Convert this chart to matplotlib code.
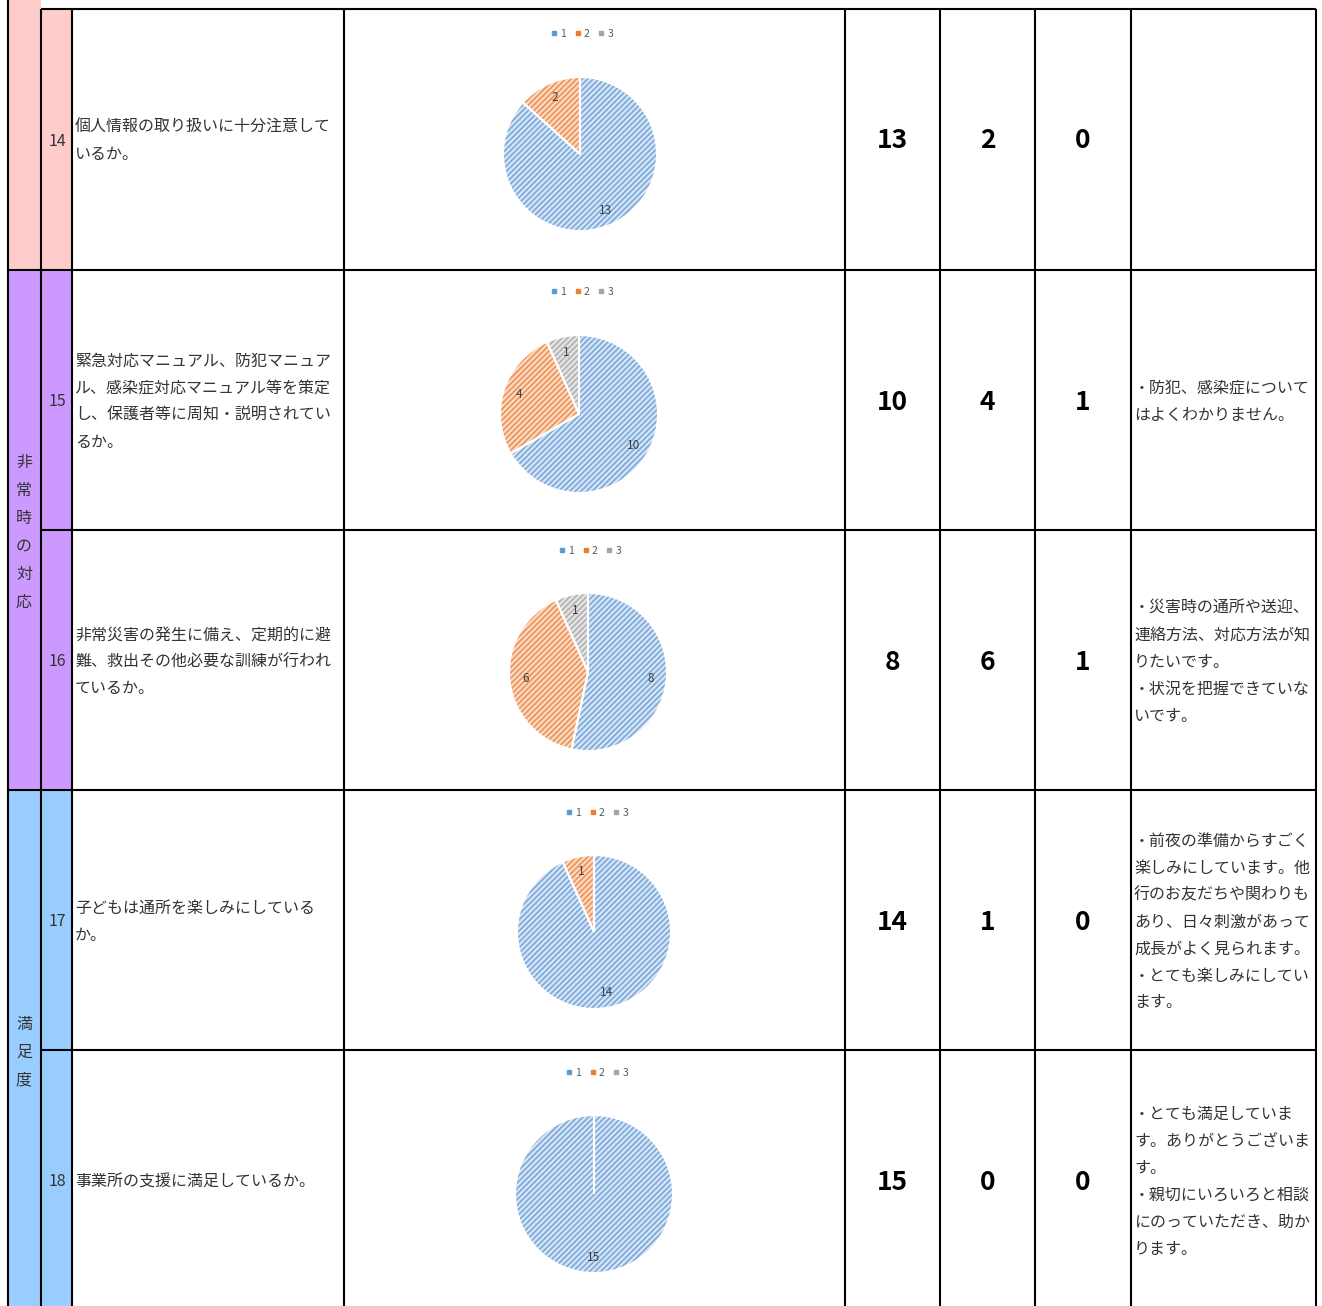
import numpy as np
import matplotlib
matplotlib.use('Agg')
import matplotlib.pyplot as plt
from matplotlib.lines import Line2D

plt.rcParams['font.family'] = ['Noto Sans CJK JP', 'DejaVu Sans']
plt.rcParams['hatch.linewidth'] = 1.3

# ---- data ----
item_no = [14, 15, 16, 17, 18]
questions = [
    "個人情報の取り扱いに十分注意して\nいるか。",
    "緊急対応マニュアル、防犯マニュア\nル、感染症対応マニュアル等を策定\nし、保護者等に周知・説明されてい\nるか。",
    "非常災害の発生に備え、定期的に避\n難、救出その他必要な訓練が行われ\nているか。",
    "子どもは通所を楽しみにしている\nか。",
    "事業所の支援に満足しているか。",
]
ans1 = [13, 10, 8, 14, 15]
ans2 = [2, 4, 6, 1, 0]
ans3 = [0, 1, 1, 0, 0]
comments = [
    "",
    "・防犯、感染症について\nはよくわかりません。",
    "・災害時の通所や送迎、\n連絡方法、対応方法が知\nりたいです。\n・状況を把握できていな\nいです。",
    "・前夜の準備からすごく\n楽しみにしています。他\n行のお友だちや関わりも\nあり、日々刺激があって\n成長がよく見られます。\n・とても楽しみにしてい\nます。",
    "・とても満足していま\nす。ありがとうございま\nす。\n・親切にいろいろと相談\nにのっていただき、助か\nります。",
]
legend_labels = ['1', '2', '3']
cat_labels = ['非常時の対応', '満足度']

# ---- layout (pixels) ----
W, H = 1322, 1306
row_top = [9, 270, 530, 790, 1050]
row_h = 260
col_x = [8, 41, 72, 344, 845, 940, 1035, 1131, 1316]
row_fill = ['#ffcccc', '#cc99ff', '#cc99ff', '#99ccff', '#99ccff']
pie_pos = [(580, 154, 77), (579, 414, 79), (588, 672, 79), (594, 932, 77), (594, 1194, 79)]
leg_pos = [(582, 34), (582, 292), (590, 551), (597, 813), (597, 1073)]
face_cols = ['#d9e6f5', '#fadcc8', '#e6e6e6']
hatch_cols = ['#7eabdd', '#f09558', '#b3b3b3']
mark_cols = ['#5b9bd5', '#ed7d31', '#a5a5a5']
txt_col = '#333333'
fs = 11.5
lh = 27
dy = 2  # small baseline correction

fig = plt.figure(figsize=(W / 100, H / 100), dpi=100)
ax = fig.add_axes([0, 0, 1, 1])
ax.set_xlim(0, W)
ax.set_ylim(H, 0)
ax.axis('off')

# coloured header columns
for i in range(5):
    top = row_top[i]
    bot = min(top + row_h, H)
    y0 = 0 if i == 0 else top
    ax.add_patch(plt.Rectangle((col_x[0], y0), col_x[1] - col_x[0], bot - y0,
                               facecolor=row_fill[i], edgecolor='none', zorder=0))
    ax.add_patch(plt.Rectangle((col_x[1], top), col_x[2] - col_x[1], bot - top,
                               facecolor=row_fill[i], edgecolor='none', zorder=0))

# grid lines
lw = 1.5
ax.plot([col_x[0], col_x[0]], [0, H], color='black', lw=lw, solid_capstyle='butt')
for x in col_x[1:]:
    ax.plot([x, x], [row_top[0], H], color='black', lw=lw, solid_capstyle='butt')
for i, y in enumerate(row_top):
    x0 = col_x[0] if i in (1, 3) else col_x[1]
    ax.plot([x0, col_x[-1]], [y, y], color='black', lw=lw, solid_capstyle='butt')

# category labels (vertical)
cat_rows = [(1, 2), (3, 4)]
for lab, (a, b) in zip(cat_labels, cat_rows):
    yc = (row_top[a] + row_top[b] + row_h) / 2
    n = len(lab)
    for k, ch in enumerate(lab):
        ax.text(24, yc + dy + (k - (n - 1) / 2) * 28, ch, ha='center', va='center',
                fontsize=fs, color=txt_col)

for i in range(5):
    yc = row_top[i] + row_h / 2
    ax.text(57, yc + dy, str(item_no[i]), ha='center', va='center', fontsize=fs, color=txt_col)

    lines = questions[i].split('\n')
    for k, ln in enumerate(lines):
        ax.text(75, yc + dy + (k - (len(lines) - 1) / 2) * lh, ln, ha='left', va='center',
                fontsize=fs, color=txt_col)

    for j, v in enumerate([ans1[i], ans2[i], ans3[i]]):
        xc = (col_x[4 + j] + col_x[5 + j]) / 2
        ax.text(xc, yc + dy, str(v), ha='center', va='center', fontsize=19,
                fontweight='bold', color='black')

    if comments[i]:
        lines = comments[i].split('\n')
        for k, ln in enumerate(lines):
            ax.text(1134, yc + dy + (k - (len(lines) - 1) / 2) * lh, ln, ha='left', va='center',
                    fontsize=fs, color=txt_col)

    # pie
    cx, cy, r = pie_pos[i]
    s = 1.05
    pax = fig.add_axes([(cx - r * s) / W, 1 - (cy + r * s) / H, 2 * r * s / W, 2 * r * s / H])
    vals = [ans1[i], ans2[i], ans3[i]]
    tot = sum(vals)

    def fmt(p, tot=tot):
        v = int(round(p * tot / 100))
        return str(v) if v > 0 else ''

    wedges, _, autot = pax.pie(vals, startangle=90, counterclock=False, colors=face_cols,
                               autopct=fmt, pctdistance=0.8,
                               textprops=dict(fontsize=8.5, color='#404040'),
                               wedgeprops=dict(linewidth=0))
    for w, hc in zip(wedges, hatch_cols):
        w.set_hatch('//////')
        w.set_edgecolor(hc)
    for t in autot:
        t.set_zorder(5)
    pax.pie(vals, startangle=90, counterclock=False, colors=['none'] * 3,
            wedgeprops=dict(edgecolor='white', linewidth=1.5))
    pax.set_xlim(-s, s)
    pax.set_ylim(-s, s)

    handles = [Line2D([], [], marker='s', ls='', color=c, markersize=3.5) for c in mark_cols]
    pax.legend(handles, legend_labels, loc='center', bbox_to_anchor=leg_pos[i],
               bbox_transform=ax.transData, ncol=3, frameon=False, fontsize=7.5,
               labelcolor='#595959', handlelength=0.6, handletextpad=0.3,
               columnspacing=0.8, borderpad=0)

fig.savefig('out.png', dpi=100)
